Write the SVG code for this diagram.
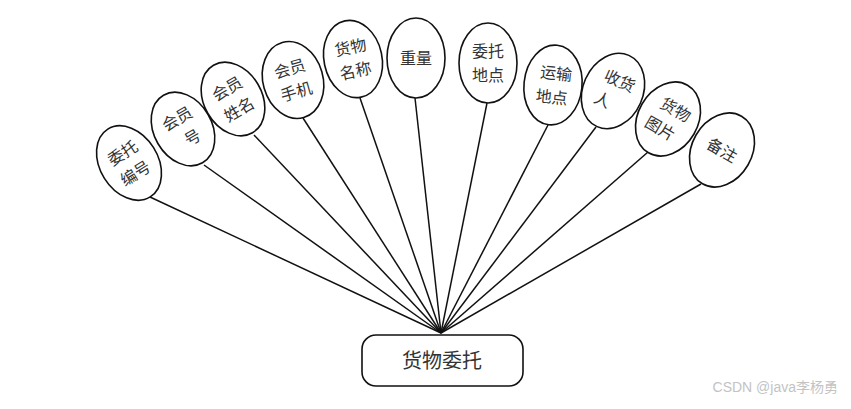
<svg xmlns="http://www.w3.org/2000/svg" width="851" height="409" viewBox="0 0 851 409">
<style>
.e{fill:#fff;stroke:#111;stroke-width:1.6}
.t{font-family:"Noto Sans CJK SC","Noto Sans",sans-serif;font-size:16px;fill:#333;text-anchor:middle}
.c{stroke:#111;stroke-width:1.5;fill:none}
.w{font-family:"Liberation Sans","Noto Sans CJK SC",sans-serif;font-size:14px;fill:#aaa;opacity:0.7;text-anchor:end}
</style>
<rect width="851" height="409" fill="#fff"/>
<g id="connectors" class="c">
<line x1="441" y1="333" x2="150" y2="197"/>
<line x1="441" y1="333" x2="204" y2="165"/>
<line x1="441" y1="333" x2="254" y2="135"/>
<line x1="441" y1="333" x2="303" y2="118"/>
<line x1="441" y1="333" x2="360" y2="98"/>
<line x1="441" y1="333" x2="415" y2="98"/>
<line x1="441" y1="333" x2="487" y2="103"/>
<line x1="441" y1="333" x2="548" y2="125"/>
<line x1="441" y1="333" x2="596" y2="127"/>
<line x1="441" y1="333" x2="648" y2="152"/>
<line x1="441" y1="333" x2="701" y2="184"/>
</g>
<g id="n1" transform="rotate(-32 129 163)"><ellipse class="e" cx="129" cy="163" rx="29" ry="40"/><text class="t" x="129" y="157">委托</text><text class="t" x="129" y="181">编号</text></g>
<g id="n2" transform="rotate(-30 183 129)"><ellipse class="e" cx="183" cy="129" rx="29" ry="39"/><text class="t" x="183" y="123">会员</text><text class="t" x="187" y="147">号</text></g>
<g id="n3" transform="rotate(-30 233 99)"><ellipse class="e" cx="233" cy="99" rx="29" ry="39"/><text class="t" x="233" y="93">会员</text><text class="t" x="233" y="117">姓名</text></g>
<g id="n4" transform="rotate(-16 293 80)"><ellipse class="e" cx="293" cy="80" rx="30" ry="39"/><text class="t" x="293" y="74">会员</text><text class="t" x="293" y="98">手机</text></g>
<g id="n5" transform="rotate(-12 353 59)"><ellipse class="e" cx="353" cy="59" rx="29" ry="39"/><text class="t" x="353" y="53">货物</text><text class="t" x="353" y="77">名称</text></g>
<g id="n6"><ellipse class="e" cx="416" cy="58" rx="29" ry="40"/><text class="t" x="416" y="64">重量</text></g>
<g id="n7"><ellipse class="e" cx="488" cy="63" rx="29" ry="40"/><text class="t" x="488" y="57">委托</text><text class="t" x="488" y="81">地点</text></g>
<g id="n8" transform="rotate(6 553 85)"><ellipse class="e" cx="553" cy="85" rx="29" ry="40"/><text class="t" x="555" y="79">运输</text><text class="t" x="553" y="103">地点</text></g>
<g id="n9" transform="rotate(24 613 91)"><ellipse class="e" cx="613" cy="91" rx="30" ry="39"/><text class="t" x="615" y="85">收货</text><text class="t" x="607" y="109">人</text></g>
<g id="n10" transform="rotate(30 668 119)"><ellipse class="e" cx="668" cy="119" rx="30" ry="39"/><text class="t" x="670" y="113">货物</text><text class="t" x="666" y="137">图片</text></g>
<g id="n11" transform="rotate(30 722 150)"><ellipse class="e" cx="722" cy="150" rx="30" ry="39"/><text class="t" x="722" y="156">备注</text></g>
<g id="center"><rect class="e" x="362" y="335" width="161" height="51" rx="14" ry="14"/><text class="t" x="442" y="368" style="font-size:20px">货物委托</text></g>
<g id="watermark"><text class="w" x="838" y="392">CSDN @java李杨勇</text></g>
</svg>
